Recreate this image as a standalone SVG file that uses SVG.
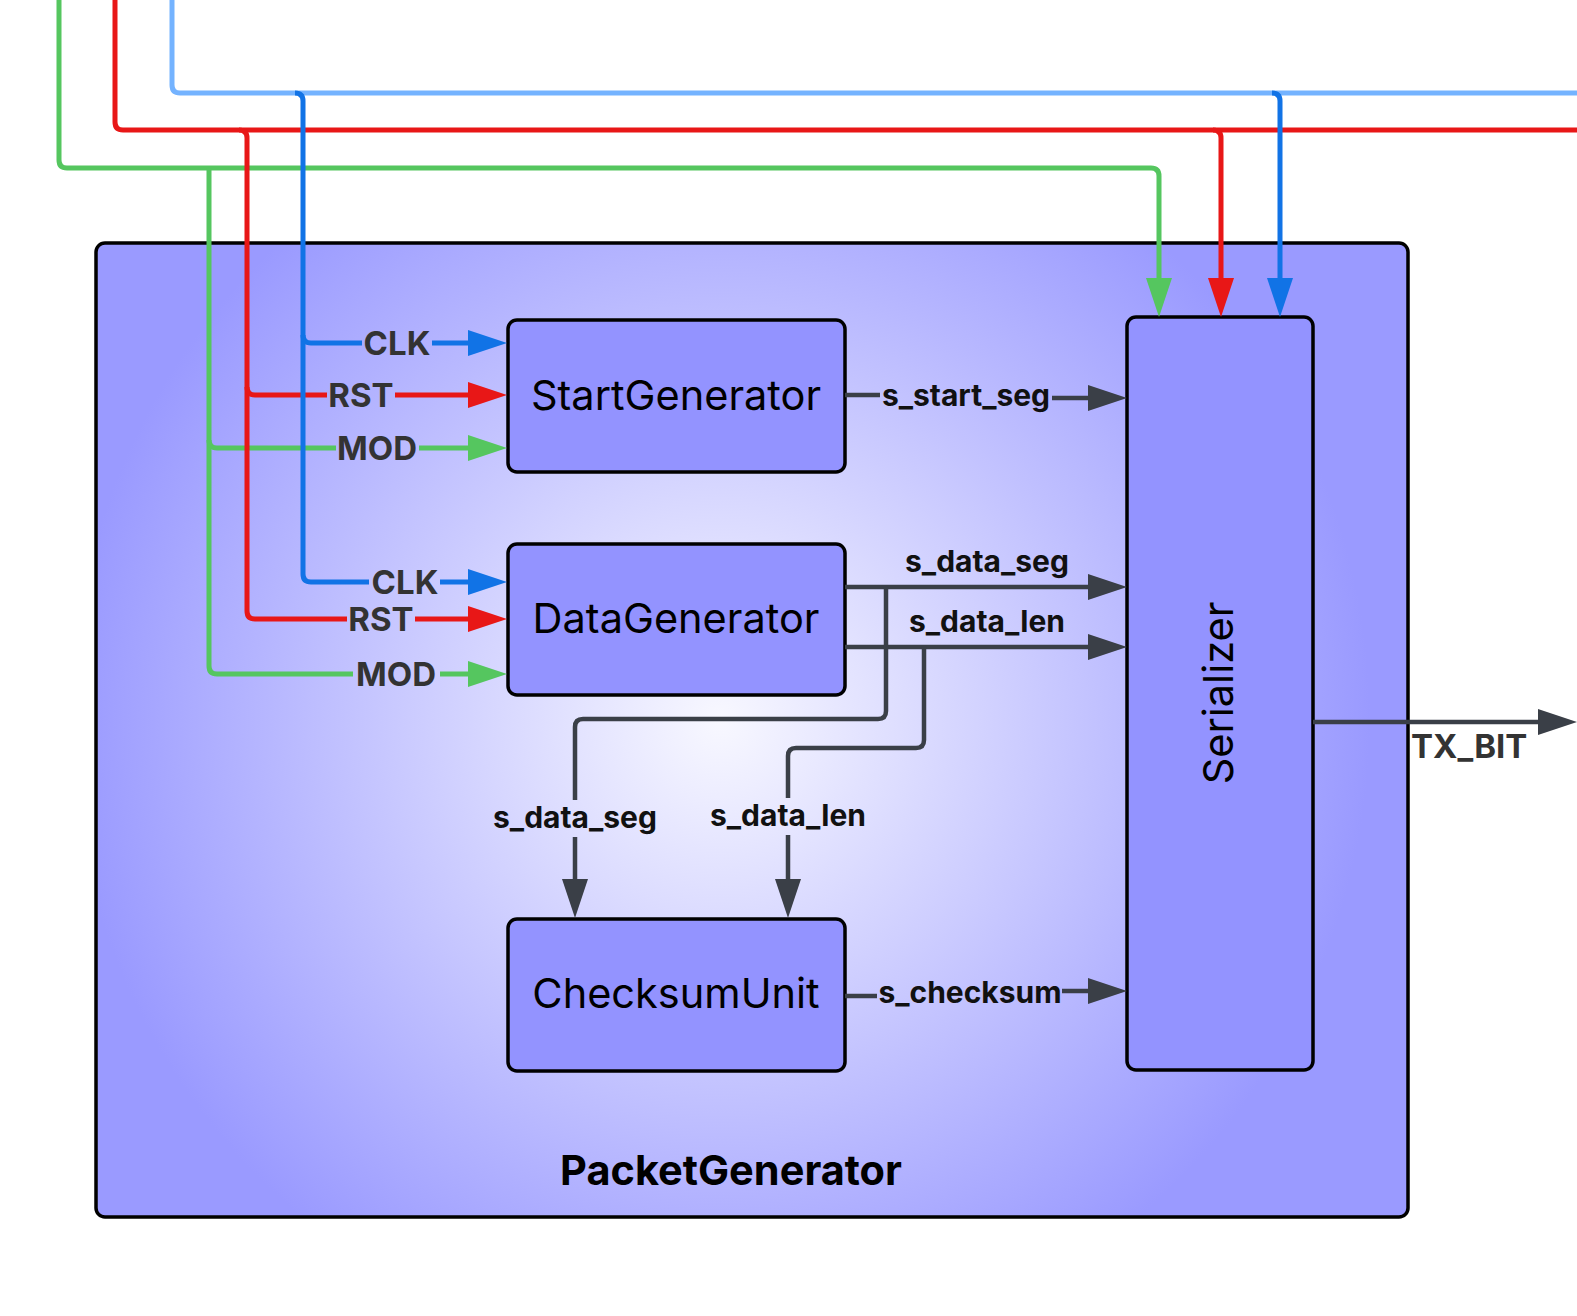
<svg xmlns="http://www.w3.org/2000/svg" width="1577" height="1316" viewBox="0 0 1577 1316">
<style>
.node{fill:#9393ff;stroke:#000;stroke-width:3.5}
.cont{stroke:#000;stroke-width:3.5}
.ntext{font-family:Inter,"Liberation Sans",sans-serif;font-size:41.5px;fill:#000;text-anchor:middle;dominant-baseline:central}
.ctitle{font-family:Inter,"Liberation Sans",sans-serif;font-size:41.5px;font-weight:700;fill:#000;text-anchor:middle}
.w{fill:none;stroke-width:5;stroke-linejoin:round}
.g{stroke:#55c65f}.r{stroke:#e81717}.b{stroke:#1173e6}.lb{stroke:#74b3ff}
.s{fill:none;stroke:#3a3f47;stroke-width:4.5;stroke-linejoin:round}
.plab{font-family:Inter,"Liberation Sans",sans-serif;font-size:33px;font-weight:700;fill:#333;text-anchor:middle;dominant-baseline:central}
.slab{font-family:Inter,"Liberation Sans",sans-serif;font-size:30px;font-weight:700;fill:#111;text-anchor:middle;dominant-baseline:central}
</style>
<defs>
<radialGradient id="bg" gradientUnits="userSpaceOnUse" cx="720" cy="720" r="650">
<stop offset="0" stop-color="#f8f8ff"/>
<stop offset="1" stop-color="#9a9aff"/>
</radialGradient>
<marker id="aG" markerUnits="userSpaceOnUse" markerWidth="39" markerHeight="26" viewBox="0 0 39 26" refX="0" refY="13" orient="auto"><path d="M0,0 L39,13 L0,26 z" fill="#55c65f"/></marker>
<marker id="aR" markerUnits="userSpaceOnUse" markerWidth="39" markerHeight="26" viewBox="0 0 39 26" refX="0" refY="13" orient="auto"><path d="M0,0 L39,13 L0,26 z" fill="#e81717"/></marker>
<marker id="aB" markerUnits="userSpaceOnUse" markerWidth="39" markerHeight="26" viewBox="0 0 39 26" refX="0" refY="13" orient="auto"><path d="M0,0 L39,13 L0,26 z" fill="#1173e6"/></marker>
<marker id="aS" markerUnits="userSpaceOnUse" markerWidth="39" markerHeight="26" viewBox="0 0 39 26" refX="0" refY="13" orient="auto"><path d="M0,0 L39,13 L0,26 z" fill="#3a3f47"/></marker>
</defs>
<rect width="1577" height="1316" fill="#fff"/>
<g id="PacketGenerator">
<rect class="cont" x="96" y="243" width="1312" height="974" rx="9" fill="url(#bg)"/>
<text class="ctitle" x="731" y="1185">PacketGenerator</text>
</g>
<g id="StartGenerator">
<rect class="node" x="508" y="320" width="337" height="152" rx="9"/>
<text class="ntext" x="676" y="395">StartGenerator</text>
</g>
<g id="DataGenerator">
<rect class="node" x="508" y="544" width="337" height="151" rx="9"/>
<text class="ntext" x="676" y="618">DataGenerator</text>
</g>
<g id="ChecksumUnit">
<rect class="node" x="508" y="919" width="337" height="152" rx="9"/>
<text class="ntext" x="676" y="993">ChecksumUnit</text>
</g>
<g id="Serializer">
<rect class="node" x="1127" y="317" width="186" height="753" rx="9"/>
<text class="ntext" x="0" y="0" transform="translate(1218,693) rotate(-90)">Serializer</text>
</g>
<g id="connectors">
<path class="w g" d="M59,0 V160 q0,8 8,8 H1151 q8,0 8,8 V278" marker-end="url(#aG)"/>
<path class="w g" d="M209,168 V666 q0,8 8,8 H353"/>
<path class="w g" d="M440,674 H468" marker-end="url(#aG)"/>
<path class="w g" d="M209,440 q0,8 8,8 H336"/>
<path class="w g" d="M419,448 H468" marker-end="url(#aG)"/>
<path class="w r" d="M115,0 V122 q0,8 8,8 H1577"/>
<path class="w r" d="M239,130 q8,0 8,8 V611 q0,8 8,8 H347"/>
<path class="w r" d="M415,619 H468" marker-end="url(#aR)"/>
<path class="w r" d="M247,387 q0,8 8,8 H327"/>
<path class="w r" d="M395,395 H468" marker-end="url(#aR)"/>
<path class="w r" d="M1213,130 q8,0 8,8 V278" marker-end="url(#aR)"/>
<path class="w lb" d="M172,0 V85 q0,8 8,8 H1577"/>
<path class="w b" d="M295,93 q8,0 8,8 V574 q0,8 8,8 H369"/>
<path class="w b" d="M440,582 H468" marker-end="url(#aB)"/>
<path class="w b" d="M303,335 q0,8 8,8 H362"/>
<path class="w b" d="M432,343 H468" marker-end="url(#aB)"/>
<path class="w b" d="M1272,93 q8,0 8,8 V278" marker-end="url(#aB)"/>
<path class="s" d="M845,395 H880"/>
<path class="s" d="M1052,398 H1088" marker-end="url(#aS)"/>
<path class="s" d="M845,587 H1088" marker-end="url(#aS)"/>
<path class="s" d="M845,647 H1088" marker-end="url(#aS)"/>
<path class="s" d="M886,587 V711 q0,8 -8,8 H583 q-8,0 -8,8 V800"/>
<path class="s" d="M575,837 V879" marker-end="url(#aS)"/>
<path class="s" d="M924,647 V740 q0,8 -8,8 H796 q-8,0 -8,8 V798"/>
<path class="s" d="M788,835 V879" marker-end="url(#aS)"/>
<path class="s" d="M845,996 H877"/>
<path class="s" d="M1062,991 H1088" marker-end="url(#aS)"/>
<path class="s" d="M1313,722 H1538" marker-end="url(#aS)"/>
<text class="plab" x="397" y="343">CLK</text>
<text class="plab" x="361" y="395">RST</text>
<text class="plab" x="377" y="448">MOD</text>
<text class="plab" x="405" y="582">CLK</text>
<text class="plab" x="381" y="619">RST</text>
<text class="plab" x="396" y="674">MOD</text>
<text class="slab" x="966" y="395">s_start_seg</text>
<text class="slab" x="987" y="561">s_data_seg</text>
<text class="slab" x="987" y="621">s_data_len</text>
<text class="slab" x="575" y="817">s_data_seg</text>
<text class="slab" x="788" y="815">s_data_len</text>
<text class="slab" x="970" y="992">s_checksum</text>
<text class="plab" x="1411" y="746" style="text-anchor:start">TX_BIT</text>
</g>
</svg>
